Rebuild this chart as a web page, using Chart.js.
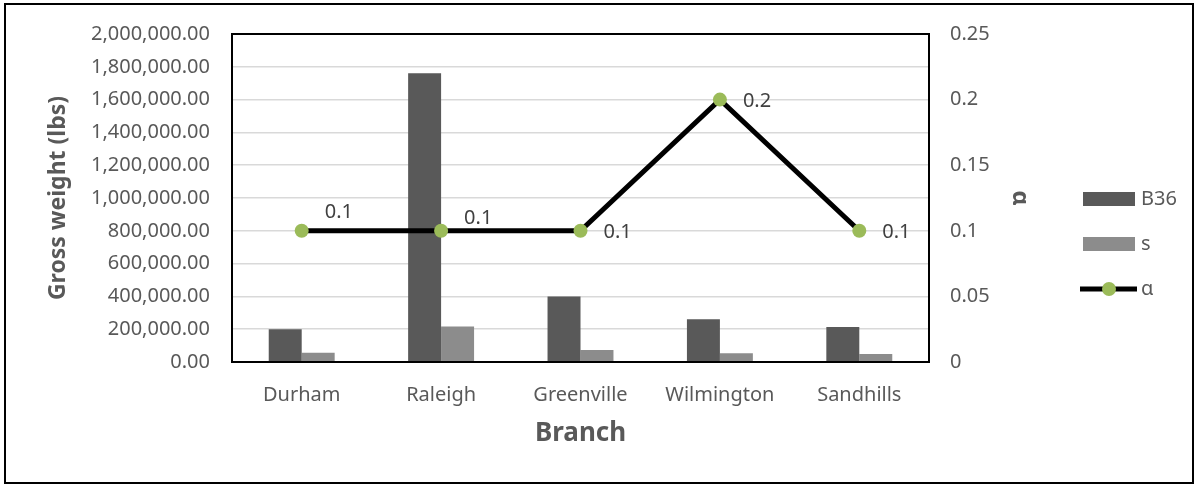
<!DOCTYPE html>
<html>
<head>
<meta charset="utf-8">
<script src="https://cdn.jsdelivr.net/npm/chart.js@4.4.1/dist/chart.umd.min.js"></script>
<style>
  html, body { margin: 0; padding: 0; background: #fff; }
  #wrap { position: relative; width: 1198px; height: 485px; }
  #frame {
    position: absolute; left: 4px; top: 3px; width: 1186px; height: 477px;
    border: 2px solid #000; pointer-events: none;
  }
</style>
</head>
<body>
<div id="wrap">
  <canvas id="chart" width="1198" height="485"></canvas>
  <div id="frame"></div>
</div>
<script>
// data
const branches = ["Durham", "Raleigh", "Greenville", "Wilmington", "Sandhills"];
const b36Values = [200000, 1760000, 400000, 260000, 213000];
const sValues = [57000, 217000, 73000, 53000, 49000];
const alphaValues = [0.1, 0.1, 0.1, 0.2, 0.1];
const alphaLabelDy = [-19, -13, 1, 2, 1]; // label placement like the original

const TEXT = "#595959";
const FONT = "'Noto Sans', sans-serif";

/** black frame round the plot area */
const plotBorder = {
  id: "plotBorder",
  afterDatasetsDraw(chart) {
    const { ctx, chartArea: a } = chart;
    ctx.save();
    ctx.strokeStyle = "#000";
    ctx.lineWidth = 2;
    ctx.strokeRect(a.left, a.top, a.right - a.left, a.bottom - a.top);
    ctx.restore();
  },
};

/** value labels next to the α points */
const alphaLabels = {
  id: "alphaLabels",
  afterDatasetsDraw(chart) {
    const meta = chart.getDatasetMeta(2);
    const { ctx } = chart;
    ctx.save();
    ctx.font = `20px ${FONT}`;
    ctx.fillStyle = "#404040";
    ctx.textAlign = "left";
    ctx.textBaseline = "middle";
    meta.data.forEach((pt, i) => {
      ctx.fillText(String(alphaValues[i]), pt.x + 23, pt.y + alphaLabelDy[i]);
    });
    ctx.restore();
  },
};

/** legend on the right, Excel style */
const sideLegend = {
  id: "sideLegend",
  afterDraw(chart) {
    const { ctx } = chart;
    const x0 = chart.width - 115;
    ctx.save();
    ctx.font = `20px ${FONT}`;
    ctx.textBaseline = "middle";

    ctx.fillStyle = "#595959";
    ctx.fillRect(x0, 192, 52, 14);
    ctx.fillStyle = TEXT;
    ctx.fillText("B36", x0 + 58, 199);

    ctx.fillStyle = "#8c8c8c";
    ctx.fillRect(x0, 237, 52, 14);
    ctx.fillStyle = TEXT;
    ctx.fillText("s", x0 + 58, 244);

    ctx.strokeStyle = "#000";
    ctx.lineWidth = 5;
    ctx.beginPath();
    ctx.moveTo(x0 - 3, 289);
    ctx.lineTo(x0 + 54, 289);
    ctx.stroke();
    ctx.fillStyle = "#9bbb59";
    ctx.beginPath();
    ctx.arc(x0 + 26, 289, 7, 0, Math.PI * 2);
    ctx.fill();
    ctx.fillStyle = TEXT;
    ctx.fillText("α", x0 + 58, 289);
    ctx.restore();
  },
};

new Chart(document.getElementById("chart"), {
  type: "bar",
  data: {
    labels: branches,
    datasets: [
      {
        label: "B36",
        data: b36Values,
        backgroundColor: "#595959",
        yAxisID: "y",
        order: 2,
        categoryPercentage: 0.473,
        barPercentage: 1,
      },
      {
        label: "s",
        data: sValues,
        backgroundColor: "#8c8c8c",
        yAxisID: "y",
        order: 2,
        categoryPercentage: 0.473,
        barPercentage: 1,
      },
      {
        type: "line",
        label: "α",
        data: alphaValues,
        yAxisID: "y1",
        order: 0,
        borderColor: "#000",
        borderWidth: 5,
        pointRadius: 7,
        pointBackgroundColor: "#9bbb59",
        pointBorderWidth: 0,
        tension: 0,
      },
    ],
  },
  options: {
    responsive: false,
    animation: false,
    layout: { padding: { left: 38, right: 159, top: 33, bottom: 36 } },
    plugins: {
      legend: { display: false },
      tooltip: { enabled: false },
    },
    scales: {
      x: {
        grid: { display: false, drawTicks: false },
        border: { display: false },
        ticks: { color: TEXT, font: { family: FONT, size: 20 }, padding: 21 },
        title: {
          display: true,
          text: "Branch",
          color: TEXT,
          font: { family: FONT, size: 26, weight: "bold" },
          padding: { top: 0, bottom: 0 },
        },
        afterFit(scale) { scale.height = 87; },
      },
      y: {
        position: "left",
        min: 0,
        max: 2000000,
        grid: { color: "#d9d9d9", lineWidth: 1.5, drawTicks: false },
        border: { display: false },
        ticks: {
          stepSize: 200000,
          color: TEXT,
          font: { family: FONT, size: 20 },
          padding: 22,
          callback: (v) => Number(v).toLocaleString("en-US", { minimumFractionDigits: 2, maximumFractionDigits: 2 }),
        },
        title: {
          display: true,
          text: "Gross weight (lbs)",
          color: TEXT,
          font: { family: FONT, size: 23, weight: "bold" },
          padding: { top: 7, bottom: 0 },
        },
        afterFit(scale) { scale.width = 194; },
      },
      y1: {
        position: "right",
        min: 0,
        max: 0.25,
        grid: { display: false, drawTicks: false },
        border: { display: false },
        ticks: {
          stepSize: 0.05,
          color: TEXT,
          font: { family: FONT, size: 20 },
          padding: 21,
          callback: (v) => String(Number(Number(v).toFixed(2))),
        },
        title: {
          display: true,
          text: "α",
          color: TEXT,
          font: { family: FONT, size: 23, weight: "bold" },
          padding: { top: 6, bottom: 0 },
        },
        afterFit(scale) { scale.width = 110; },
      },
    },
  },
  plugins: [plotBorder, alphaLabels, sideLegend],
});
</script>
</body>
</html>
